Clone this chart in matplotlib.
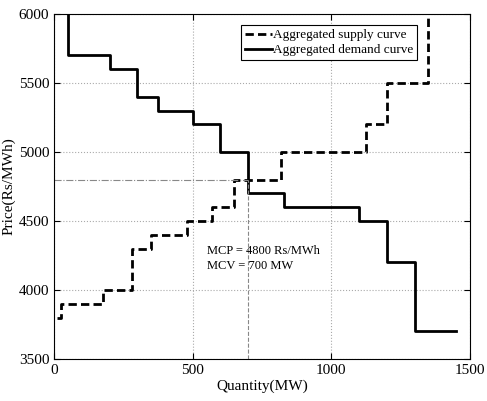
import matplotlib

matplotlib.use("Agg")
import matplotlib.pyplot as plt

plt.rcParams["font.family"] = ["Liberation Serif", "DejaVu Serif"]

# step curves: quantity break points (MW) and prices (Rs/MWh)
supply_q = [10, 25, 25, 175, 175, 280, 280, 350, 350, 480, 480, 570, 570, 650, 650,
            820, 820, 1125, 1125, 1200, 1200, 1350, 1350]
supply_p = [3800, 3800, 3900, 3900, 4000, 4000, 4300, 4300, 4400, 4400, 4500, 4500, 4600,
            4600, 4800, 4800, 5000, 5000, 5200, 5200, 5500, 5500, 6000]

demand_q = [50, 50, 200, 200, 300, 300, 375, 375, 500, 500, 600, 600, 700, 700, 830, 830,
            1100, 1100, 1200, 1200, 1300, 1300, 1450]
demand_p = [6000, 5700, 5700, 5600, 5600, 5400, 5400, 5300, 5300, 5200, 5200, 5000, 5000,
            4700, 4700, 4600, 4600, 4500, 4500, 4200, 4200, 3700, 3700]

mcp = 4800
mcv = 700

fig = plt.figure(figsize=(4.87, 4.01), dpi=100)
ax = fig.add_axes([0.111, 0.105, 0.854, 0.86])

ax.plot(supply_q, supply_p, color="black", linestyle=(0, (3, 1.5)), linewidth=2,
        label="Aggregated supply curve")
ax.plot(demand_q, demand_p, "k-", linewidth=2, label="Aggregated demand curve")

ax.plot([0, mcv], [mcp, mcp], linestyle="-.", color="#888888", linewidth=0.8)
ax.plot([mcv, mcv], [3500, mcp], linestyle="--", color="#888888", linewidth=0.8)

ax.text(550, 4230, f"MCP = {mcp} Rs/MWh\nMCV = {mcv} MW", fontsize=9, va="center",
        linespacing=1.3)

ax.set_xlim(0, 1500)
ax.set_ylim(3500, 6000)
ax.set_xticks([0, 500, 1000, 1500])
ax.set_yticks([3500, 4000, 4500, 5000, 5500, 6000])
ax.tick_params(direction="in", top=True, right=True, labelsize=11, length=4)
ax.grid(color="#aaaaaa", linestyle=":", linewidth=0.8)
ax.set_xlabel("Quantity(MW)", fontsize=11, labelpad=2)
ax.set_ylabel("Price(Rs/MWh)", fontsize=11, labelpad=2)

leg = ax.legend(loc="upper left", bbox_to_anchor=(0.45, 0.968), fontsize=9.5,
                fancybox=False, edgecolor="black", handlelength=2.0,
                handletextpad=0.1, borderpad=0.3, labelspacing=0.2, framealpha=1,
                borderaxespad=0)
leg.get_frame().set_linewidth(0.8)

fig.savefig("out.png", dpi=100)
